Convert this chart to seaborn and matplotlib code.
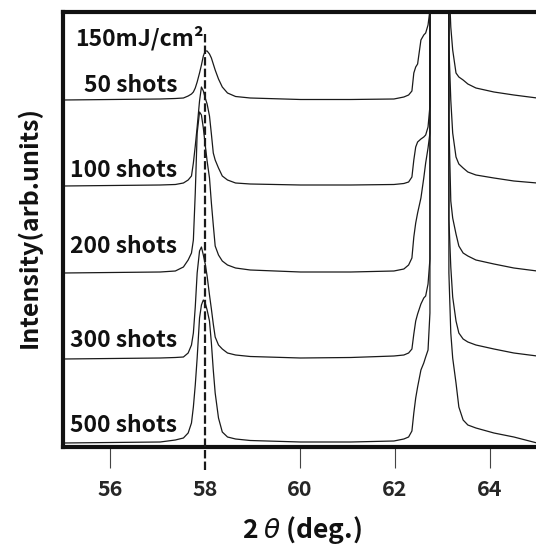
import matplotlib
matplotlib.use("Agg")
import matplotlib.pyplot as plt
import numpy as np
import pandas as pd
import seaborn as sns

# ---------------- data ----------------
two_theta = [55.00, 57.05, 57.37, 57.54, 57.64, 57.71, 57.75, 57.79, 57.83, 57.88,
             57.92, 57.96, 58.00, 58.04, 58.09, 58.13, 58.17, 58.21, 58.28, 58.36,
             58.47, 58.64, 58.95, 60.01, 61.07, 61.98, 62.19, 62.29, 62.36, 62.40,
             62.44, 62.48, 62.55, 62.61, 62.65, 62.70, 62.74, 62.77, 63.11, 63.14,
             63.18, 63.22, 63.29, 63.35, 63.44, 63.54, 63.71, 64.09, 64.51, 65.00]

int_50 = [0, 1, 1.5, 2, 4, 6, 8, 12, 18, 27,
          35, 44, 49, 49, 46, 42, 36, 30, 21, 13,
          7, 3.5, 2, 0.5, 0.5, 1, 3, 5, 9, 27,
          33, 36, 60, 65, 67, 75, 90, 5000, 5000, 120,
          73, 50, 27, 23, 20, 16, 12, 8, 5, 2]

int_100 = [0, 1, 1.5, 3, 6, 10, 23, 40, 59, 85,
           99, 95, 88, 82, 70, 52, 33, 26, 18, 10,
           6, 3, 2, 1, 1, 1.5, 2.5, 4, 9, 26,
           39, 44, 47, 49, 51, 59, 80, 5000, 5000, 140,
           86, 53, 29, 22, 18, 14, 11, 8, 5, 3]

int_200 = [0, 1, 2, 6, 13, 20, 33, 80, 140, 161,
           158, 145, 128, 112, 95, 70, 48, 27, 18, 12,
           8, 5, 3, 1, 1, 2, 4, 8, 15, 36,
           50, 60, 75, 95, 110, 125, 140, 5000, 5000, 150,
           72, 55, 39, 27, 20, 17, 13, 9, 5, 2]

int_300 = [0, 1, 1.5, 2, 6, 14, 26, 52, 86, 108,
           112, 104, 95, 83, 64, 50, 35, 22, 14, 10,
           6, 4, 2.5, 1, 1.5, 3, 4, 6, 10, 25,
           38, 45, 55, 61, 63, 75, 100, 5000, 5000, 140,
           92, 62, 38, 26, 20, 17, 14, 10, 6, 3]

int_500 = [0, 1, 3, 5, 10, 20, 36, 58, 85, 125,
           138, 143, 140, 133, 122, 100, 73, 50, 25, 11,
           6, 4, 2.5, 1, 1, 2, 4, 6, 12, 30,
           45, 56, 73, 80, 86, 93, 130, 5000, 5000, 170,
           110, 85, 60, 36, 23, 18, 15, 10, 6, 0]

series_names = ["50 shots", "100 shots", "200 shots", "300 shots", "500 shots"]
series_values = [int_50, int_100, int_200, int_300, int_500]
offsets = [347, 261, 174, 88, 4]
fluence_label = "150mJ/cm²"
x_ticks = [56, 58, 60, 62, 64]
ref_peak = 58.0

# ---------------- figure ----------------
sns.set_style("white")
plt.rcParams["font.family"] = ["Noto Sans CJK JP", "DejaVu Sans"]

fig = plt.figure(figsize=(5.36, 5.47), dpi=100)
ax = fig.add_axes([63 / 536, 1 - 447 / 547, 1 - 63 / 536 + 0.002, (447 - 12) / 547])

rows = []
for name, vals, off in zip(series_names, series_values, offsets):
    for x, v in zip(two_theta, vals):
        rows.append({"two_theta": x, "intensity": v + off, "series": name})
df = pd.DataFrame(rows)

for name in series_names:
    sub = df[df["series"] == name]
    sns.lineplot(data=sub, x="two_theta", y="intensity", ax=ax, color="#1a1a1a",
                 lw=0.9, sort=False, estimator=None, legend=False)

ax.set_xlim(55, 65)
ax.set_ylim(0, 435)

# dashed reference line at 58 deg
ax.plot([ref_peak, ref_peak], [-23, 414], ls=(0, (3.8, 1.4)), color="#1a1a1a",
        lw=1.6, clip_on=False, zorder=5)

# spines
for side in ["left", "top", "bottom"]:
    ax.spines[side].set_linewidth(3)
    ax.spines[side].set_color("#111111")
ax.spines["right"].set_visible(False)

ax.set_yticks([])
ax.set_xticks(x_ticks)
ax.set_xticklabels([str(t) for t in x_ticks])
ax.tick_params(axis="x", direction="out", length=15, width=0.8, color="#444444",
               pad=8, labelsize=15.5, bottom=True)
for lab in ax.get_xticklabels():
    lab.set_fontweight("bold")
for t, tick in zip(x_ticks, ax.xaxis.get_major_ticks()):
    if t == ref_peak:
        tick.tick1line.set_visible(False)

ax.set_xlabel("")
ax.set_ylabel("")

# curve labels
label_y = [355, 270, 194, 100, 15]
for name, yb in zip(series_names, label_y):
    ax.text(57.41, yb, name, ha="right", va="baseline", fontsize=16.5,
            fontweight="bold", color="#111111")
ax.text(55.25, 402, fluence_label, ha="left", va="baseline", fontsize=16.5,
        fontweight="bold", color="#111111")

# axis titles
fig.text(302 / 536, 1 - 538 / 547, "2 $\\theta$ (deg.)", ha="center", va="baseline",
         fontsize=19, fontweight="bold", color="#111111")
fig.text(29 / 536, 1 - 227 / 547, "Intensity(arb.units)", rotation=90, ha="center",
         va="center", fontsize=18, fontweight="bold", color="#111111")

fig.savefig("out.png", dpi=100)
